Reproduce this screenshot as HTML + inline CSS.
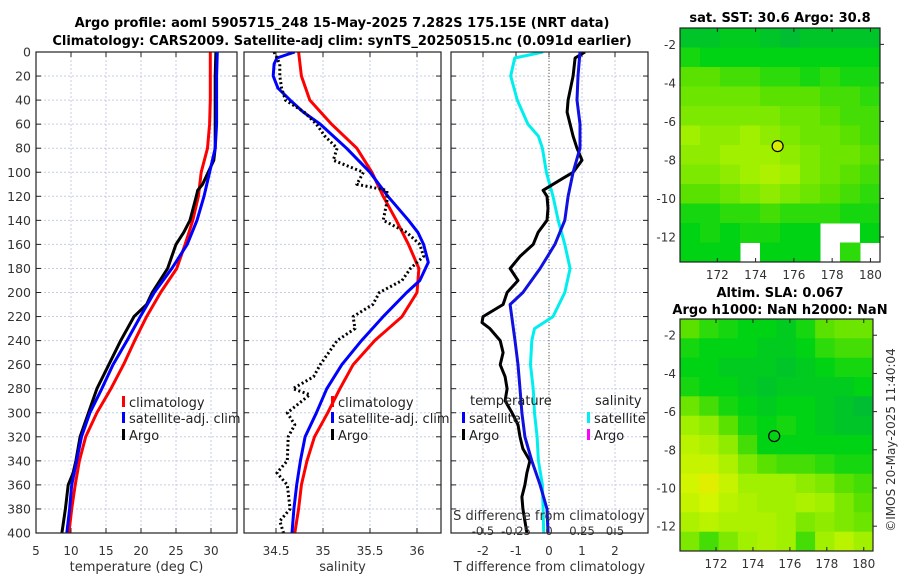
<!DOCTYPE html>
<html><head><meta charset="utf-8">
<style>
html,body{margin:0;padding:0;background:#fff;}
svg{display:block;font-family:"DejaVu Sans","Liberation Sans",sans-serif;}
</style></head>
<body>
<svg id="chart" width="900" height="580" viewBox="0 0 900 580" xmlns="http://www.w3.org/2000/svg">
<text x="342" y="27" font-size="13" font-weight="bold" text-anchor="middle">Argo profile: aoml 5905715_248 15-May-2025 7.282S 175.15E (NRT data)</text>
<text x="342" y="45" font-size="13" font-weight="bold" text-anchor="middle">Climatology: CARS2009. Satellite-adj clim: synTS_20250515.nc (0.091d earlier)</text>
<text x="780" y="22" font-size="13" font-weight="bold" text-anchor="middle">sat. SST: 30.6 Argo: 30.8</text>
<text x="780" y="297" font-size="13" font-weight="bold" text-anchor="middle">Altim. SLA: 0.067</text>
<text x="780" y="314" font-size="13" font-weight="bold" text-anchor="middle">Argo h1000: NaN h2000: NaN</text>
<text transform="translate(895,440) rotate(-90)" font-size="12" fill="#333" text-anchor="middle">©IMOS 20-May-2025 11:40:04</text>
</svg>
<script>
// ---- data ----
const depths20 = [0,20,40,60,80,100,120,140,160,180,200,220,240,260,280,300,320,340,360,380,400];
const tempClim = [29.9,29.9,29.9,29.8,29.5,28.6,28.2,27.4,26.3,25.1,22.8,20.8,19.1,17.5,15.7,13.7,12.1,11.2,10.6,10.1,9.7];
const tempSat  = [30.9,30.8,30.8,30.8,30.6,29.8,29.0,28.0,26.6,24.4,21.9,19.9,18.0,16.0,14.4,12.7,11.5,10.8,10.1,9.8,9.4];
const argoTempDepths = [0,20,40,60,80,90,100,110,115,120,140,150,160,170,180,200,210,220,240,260,280,300,320,340,350,360,380,400];
const argoTemp = [30.7,30.6,30.6,30.6,30.6,30.4,29.6,28.8,28.1,27.9,27.0,26.1,25.0,24.4,23.8,21.6,20.8,19.0,17.1,15.4,13.7,12.5,11.3,10.7,10.3,9.6,9.2,8.7];

const salClim = [34.74,34.77,34.86,35.09,35.36,35.52,35.64,35.78,35.91,36.02,36.0,35.84,35.55,35.32,35.18,35.05,34.91,34.83,34.77,34.74,34.70];
const salSatDepths = [0,5,10,20,30,40,50,60,80,100,120,140,150,160,175,190,200,220,240,260,280,300,320,340,360,380,400];
const salSat = [34.70,34.51,34.48,34.47,34.52,34.65,34.79,34.97,35.25,35.50,35.69,35.91,36.01,36.07,36.12,36.03,35.89,35.64,35.41,35.20,35.04,34.93,34.81,34.76,34.72,34.69,34.67];
const argoSalDepths = [0,10,20,30,40,50,60,70,80,90,100,110,115,125,140,150,160,170,180,190,200,210,220,230,240,260,270,280,285,300,310,320,340,350,360,380,390,400];
const argoSal = [34.48,34.54,34.54,34.56,34.60,34.80,34.93,35.02,35.15,35.11,35.43,35.36,35.68,35.68,35.64,35.89,36.03,36.07,35.93,35.84,35.60,35.53,35.32,35.34,35.15,34.97,34.90,34.68,34.86,34.62,34.70,34.63,34.62,34.51,34.62,34.65,34.54,34.58];

const dTsatDepths = [0,20,40,60,80,100,120,140,160,180,200,210,240,260,280,300,320,340,360,380,400];
const dTsat = [0.94,0.88,0.85,0.94,0.94,0.73,0.58,0.48,0.18,-0.27,-0.79,-1.18,-1.03,-0.94,-0.88,-0.82,-0.73,-0.52,-0.27,-0.06,-0.03];
const dSsatDepths = [0,5,20,40,60,70,80,100,120,140,160,180,200,220,230,240,260,280,300,320,340,360,380,400];
const dSsat = [-0.045,-0.26,-0.29,-0.24,-0.16,-0.08,-0.05,-0.02,0.03,0.07,0.12,0.16,0.12,0.03,-0.11,-0.13,-0.14,-0.12,-0.11,-0.09,-0.08,-0.05,-0.045,-0.04];
const dTargoDepths = [0,5,20,40,50,60,70,80,90,100,105,110,115,120,130,140,150,160,170,180,190,200,210,220,225,230,240,250,260,270,280,290,300,310,320,330,340,350,360,370,380,390,400];
const dTargo = [1.09,0.79,0.73,0.58,0.55,0.64,0.73,0.85,1.0,0.73,0.42,0.12,-0.18,-0.06,-0.03,-0.06,-0.33,-0.48,-0.88,-1.18,-0.94,-1.27,-1.39,-2.0,-2.03,-1.79,-1.48,-1.39,-1.48,-1.33,-1.27,-1.33,-1.12,-0.94,-0.88,-0.79,-0.58,-0.67,-0.73,-0.82,-0.79,-0.73,-0.67];

const tempTicks = [5,10,15,20,25,30];
const salTicks = [34.5,35,35.5,36];
const salTickLabels = ["34.5","35","35.5","36"];
const dTTicks = [-2,-1,0,1,2];
const dSTicks = [-0.5,-0.25,0,0.25,0.5];
const dSTickLabels = ["-0.5","-0.25","0","0.25","0.5"];
const depthTicks = [0,20,40,60,80,100,120,140,160,180,200,220,240,260,280,300,320,340,360,380,400];

const lonTicks = [172,174,176,178,180];
const latTicks = [-2,-4,-6,-8,-10,-12];
const sstGrid = [
[0.2,0.2,0.25,0.25,0.2,0.15,0.2,0.2,0.2,0.2],
[0.35,0.3,0.3,0.3,0.3,0.3,0.3,0.3,0.3,0.3],
[0.5,0.5,0.45,0.45,0.4,0.4,0.35,0.4,0.35,0.35],
[0.55,0.55,0.55,0.55,0.5,0.5,0.5,0.45,0.45,0.4],
[0.6,0.6,0.6,0.6,0.6,0.55,0.55,0.5,0.45,0.45],
[0.7,0.65,0.65,0.7,0.65,0.6,0.55,0.55,0.5,0.45],
[0.65,0.65,0.7,0.7,0.7,0.65,0.6,0.55,0.55,0.5],
[0.6,0.6,0.65,0.7,0.75,0.7,0.6,0.55,0.5,0.45],
[0.5,0.5,0.55,0.6,0.65,0.6,0.55,0.5,0.45,0.4],
[0.35,0.35,0.4,0.4,0.45,0.4,0.4,0.4,0.35,0.35],
[0.3,0.35,0.3,0.35,0.35,0.3,0.3,null,null,0.3],
[0.3,0.3,0.3,null,0.3,0.3,0.3,null,0.4,null]];
const slaGrid = [
[0.5,0.4,0.35,0.3,0.3,0.25,0.35,0.5,0.55,0.55],
[0.35,0.3,0.3,0.3,0.25,0.25,0.3,0.4,0.45,0.45],
[0.3,0.3,0.25,0.25,0.25,0.2,0.25,0.3,0.35,0.35],
[0.35,0.3,0.3,0.25,0.2,0.25,0.25,0.25,0.25,0.3],
[0.55,0.45,0.35,0.3,0.25,0.3,0.3,0.25,0.2,0.15],
[0.7,0.65,0.5,0.35,0.3,0.35,0.3,0.25,0.2,0.2],
[0.8,0.75,0.65,0.45,0.3,0.3,0.3,0.3,0.3,0.3],
[0.85,0.85,0.75,0.6,0.5,0.45,0.45,0.4,0.35,0.35],
[0.9,0.95,0.85,0.7,0.7,0.7,0.65,0.6,0.5,0.45],
[0.85,0.9,0.8,0.75,0.7,0.7,0.75,0.7,0.6,0.5],
[0.75,0.8,0.75,0.75,0.75,0.7,0.6,0.65,0.6,0.55],
[0.6,0.45,0.6,0.7,0.75,0.7,0.45,0.7,0.8,0.7]];
const argoLon = 175.15, argoLat = -7.282;

// ---- drawing ----
const svg = document.getElementById('chart');
const NS = 'http://www.w3.org/2000/svg';
function mk(tag, attrs, parent){ const e=document.createElementNS(NS,tag); for(const k in attrs) e.setAttribute(k,attrs[k]); (parent||svg).appendChild(e); return e; }
function lin(d0,d1,r0,r1){ return v => r0 + (v-d0)/(d1-d0)*(r1-r0); }

const Y0=52, Y1=533;
const yD = lin(0,400,Y0,Y1);
const panels = [
 {name:'temperature', x0:36, x1:237, sx:lin(5,30,36,211), ticks:tempTicks, labels:tempTicks.map(String), xlabel:'temperature (deg C)'},
 {name:'salinity', x0:244, x1:441, sx:lin(34.5,35.5,276,370), ticks:salTicks, labels:salTickLabels, xlabel:'salinity'},
 {name:'difference', x0:451, x1:648, sx:lin(-2,2,483,615), ticks:dTTicks, labels:dTTicks.map(String), xlabel:'T difference from climatology'}
];

panels.forEach((p,i)=>{
  const g = mk('g',{});
  
  
  const grid = mk('g',{},g);
  
  
  depthTicks.forEach(d=>{
    const y=yD(d);
    mk('line',{x1:p.x0,x2:p.x1,y1:y,y2:y,stroke:'#c5cde8','stroke-width':1,'stroke-dasharray':'2,2'},grid);
    mk('line',{x1:p.x0,x2:p.x0+5,y1:y,y2:y,stroke:'#222'},grid);
    mk('line',{x1:p.x1-5,x2:p.x1,y1:y,y2:y,stroke:'#222'},grid);
  });
  p.ticks.forEach((t,k)=>{
    const x=p.sx(t);
    mk('line',{x1:x,x2:x,y1:Y0,y2:Y1,stroke:'#c5cde8','stroke-width':1,'stroke-dasharray':'2,2'},grid);
    mk('line',{x1:x,x2:x,y1:Y1-5,y2:Y1,stroke:'#222'},grid);
    mk('line',{x1:x,x2:x,y1:Y0,y2:Y0+5,stroke:'#222'},grid);
    const tl = mk('text',{x:x,y:555,'font-size':12,'text-anchor':'middle',fill:'#333'},g);
    tl.textContent = p.labels[k];
    
    
  });
  const xl = mk('text',{x:(p.x0+p.x1)/2,y:571,'font-size':13,'text-anchor':'middle',fill:'#333'},g);
  xl.textContent = p.xlabel;
  
  
  p.g = g;
});

depthTicks.forEach(d=>{
  const t = mk('text',{x:31,y:yD(d)+4.5,'font-size':12.5,'text-anchor':'end',fill:'#333'});
  t.textContent = String(d);
  
  
});

function series(g, xs, ds, sx, color, width, dash, name){
  const pts = xs.map((v,i)=> sx(v).toFixed(1)+','+yD(ds[i]).toFixed(1)).join(' ');
  const a = {points:pts,fill:'none',stroke:color,'stroke-width':width,'stroke-linejoin':'round'};
  if(dash) a['stroke-dasharray']=dash;
  const pl = mk('polyline',a,g);
  
  
}
const P=panels;
const defs = mk('defs',{});
P.forEach((p,i)=>{ const c=mk('clipPath',{id:'clip'+i},defs); mk('rect',{x:p.x0,y:Y0,width:p.x1-p.x0,height:Y1-Y0},c); });
const g1=mk('g',{'clip-path':'url(#clip0)'},P[0].g), g2=mk('g',{'clip-path':'url(#clip1)'},P[1].g), g3=mk('g',{'clip-path':'url(#clip2)'},P[2].g);

series(g1, tempClim, depths20, P[0].sx, '#f00', 3, null, 'temp-climatology-line');
series(g1, argoTemp, argoTempDepths, P[0].sx, '#000', 3, null, 'temp-argo-line');
series(g1, tempSat, depths20, P[0].sx, '#00f', 3, null, 'temp-satellite-adj-line');

series(g2, salClim, depths20, P[1].sx, '#f00', 3, null, 'sal-climatology-line');
series(g2, salSat, salSatDepths, P[1].sx, '#00f', 3, null, 'sal-satellite-adj-line');
series(g2, argoSal, argoSalDepths, P[1].sx, '#000', 3, '2,2.5', 'sal-argo-line');

const sS = lin(-0.5,0.5,483,615);
mk('line',{x1:549,x2:549,y1:Y0,y2:Y1,stroke:'#556b2f','stroke-width':1,'stroke-dasharray':'1,2'},g3);
series(g3, dSsat, dSsatDepths, sS, '#00eeee', 3, null, 'sal-diff-satellite-line');
series(g3, dTargo, dTargoDepths, P[2].sx, '#000', 3, null, 'temp-diff-argo-line');
series(g3, dTsat, dTsatDepths, P[2].sx, '#1010e0', 3, null, 'temp-diff-satellite-line');

const st = mk('text',{x:549,y:520,'font-size':13,'text-anchor':'middle',fill:'#333'});
st.textContent='S difference from climatology';


dSTicks.forEach((v,k)=>{
  const t = mk('text',{x:sS(v),y:535,'font-size':11.5,'text-anchor':'middle',fill:'#333'});
  t.textContent = dSTickLabels[k];
  
  
});

function legend(x,y,color,label,name){
  mk('rect',{x:x,y:y-11,width:3,height:11,fill:color});
  const t = mk('text',{x:x+7,y:y,'font-size':13,fill:'#222'});
  t.textContent = label;
  
  
}
legend(122,407,'#f00','climatology','legend-climatology');
legend(122,423,'#00f','satellite-adj. clim','legend-satellite-adj');
legend(122,440,'#000','Argo','legend-argo');
legend(331,407,'#f00','climatology','legend-sal-climatology');
legend(331,423,'#00f','satellite-adj. clim','legend-sal-satellite-adj');
legend(331,440,'#000','Argo','legend-sal-argo');
const lt = mk('text',{x:470,y:405,'font-size':13,fill:'#222'}); lt.textContent='temperature';
 
const ls = mk('text',{x:595,y:405,'font-size':13,fill:'#222'}); ls.textContent='salinity';
 
legend(462,423,'#00f','satellite','legend-temp-satellite');
legend(462,440,'#000','Argo','legend-temp-argo');
legend(587,423,'#00eeee','satellite','legend-sal-satellite');
legend(587,440,'#ff00ff','Argo','legend-sal-argo-diff');

P.forEach(p=>{ const r=mk('rect',{x:p.x0,y:Y0,width:p.x1-p.x0,height:Y1-Y0,fill:'none',stroke:'#222','stroke-width':1.2});   });

const stops=[[0,[0,170,80]],[0.3,[0,210,20]],[0.5,[90,225,0]],[0.7,[160,240,0]],[0.9,[210,245,0]],[1,[240,230,0]]];
function cmap(v){
  for(let i=1;i<stops.length;i++){ if(v<=stops[i][0]){ const a=stops[i-1],b=stops[i]; const f=(v-a[0])/(b[0]-a[0]); const c=a[1].map((q,j)=>Math.round(q+(b[1][j]-q)*f)); return 'rgb('+c.join(',')+')'; } }
  return 'rgb(240,230,0)';
}
function drawMap(grid, box, name, filled){
  const g = mk('g',{});
  
  
  const lonMin=170.05, lonMax=180.5, latMax=-1.15, latMin=-13.3;
  const sx=lin(lonMin,lonMax,box.x0,box.x1), sy=lin(latMax,latMin,box.y0,box.y1);
  const rows=grid.length, cols=grid[0].length;
  const cw=(box.x1-box.x0)/cols, ch=(box.y1-box.y0)/rows;
  mk('rect',{x:box.x0,y:box.y0,width:box.x1-box.x0,height:box.y1-box.y0,fill:'#fff'},g);
  grid.forEach((row,r)=>row.forEach((v,c)=>{
    if(v===null) return;
    const cell = mk('rect',{x:(box.x0+c*cw).toFixed(1),y:(box.y0+r*ch).toFixed(1),width:(cw+0.5).toFixed(1),height:(ch+0.5).toFixed(1),fill:cmap(v)},g);
    
    
  }));
  mk('rect',{x:box.x0,y:box.y0,width:box.x1-box.x0,height:box.y1-box.y0,fill:'none',stroke:'#222','stroke-width':1.2},g);
  lonTicks.forEach(l=>{
    const x=sx(l);
    mk('line',{x1:x,x2:x,y1:box.y1,y2:box.y1-4,stroke:'#222'},g);
    mk('line',{x1:x,x2:x,y1:box.y0,y2:box.y0+4,stroke:'#222'},g);
    const t=mk('text',{x:x,y:box.y1+17,'font-size':12,'text-anchor':'middle',fill:'#333'},g);
    t.textContent=String(l);
    
    
  });
  latTicks.forEach(l=>{
    const y=sy(l);
    mk('line',{x1:box.x1,x2:box.x1+4,y1:y,y2:y,stroke:'#222'},g);
    const t=mk('text',{x:box.x0-4,y:y+4.5,'font-size':12,'text-anchor':'end',fill:'#333'},g);
    t.textContent=String(l);
    
    
  });
  const m = mk('circle',{cx:sx(argoLon),cy:sy(argoLat),r:5.5,fill:filled?'#d8ee00':'none',stroke:'#000','stroke-width':1.2},g);
  
  
}
drawMap(sstGrid,{x0:680,x1:880,y0:28,y1:262},'sst-map',true);
drawMap(slaGrid,{x0:680,x1:873,y0:319,y1:551},'sla-map',false);
</script>
</body></html>
